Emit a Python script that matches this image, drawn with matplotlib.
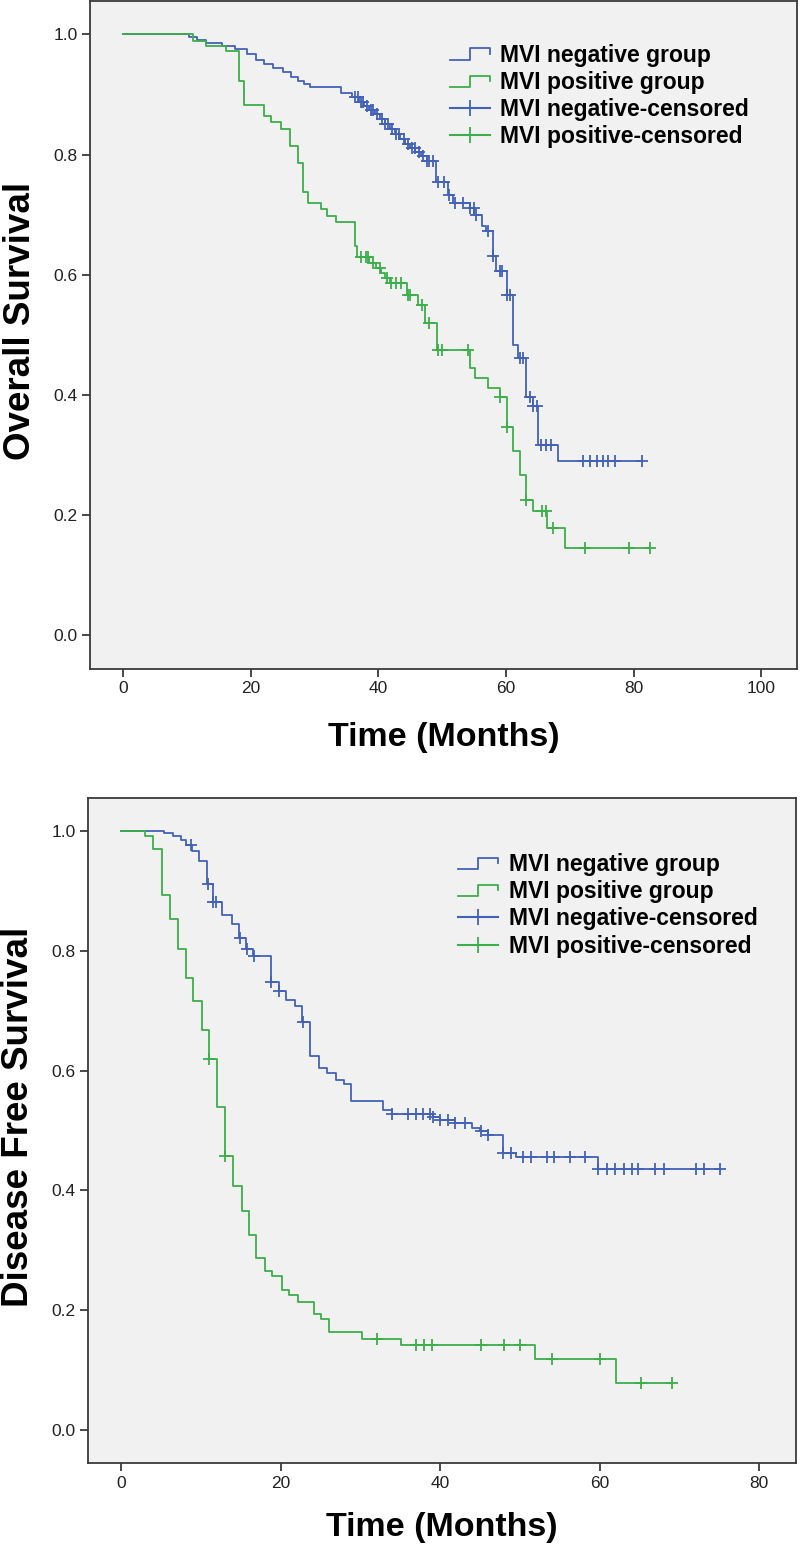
import numpy as np
import matplotlib
matplotlib.use('Agg')
from matplotlib import pyplot as plt
from matplotlib.lines import Line2D
from matplotlib.legend_handler import HandlerBase

plt.rcParams['font.family'] = ['Liberation Sans', 'DejaVu Sans']

# ---------------------------- Data ----------------------------

# Overall survival, MVI negative: event times (months) and survival after each event
os_neg_times = [0, 10.3, 11.5, 13.0, 15.5, 17.5, 19.4, 20.8, 22.0, 23.5, 25.0, 26.3, 27.4,
                28.3, 29.2, 34.2, 35.8, 37.0, 37.8, 38.6, 39.4, 40.2, 41.0, 41.8, 42.6,
                43.4, 44.2, 45.0, 45.8, 46.6, 47.6, 49.0, 50.9, 51.7, 54.3, 55.0, 56.2,
                56.9, 58.0, 58.5, 60.1, 61.1, 61.9, 63.2, 64.2, 65.0, 68.2]
os_neg_surv = [1.0, 0.995, 0.99, 0.985, 0.98, 0.975, 0.967, 0.958, 0.95, 0.944, 0.937, 0.929,
               0.922, 0.917, 0.913, 0.903, 0.895, 0.888, 0.881, 0.874, 0.867, 0.86, 0.851,
               0.843, 0.834, 0.826, 0.818, 0.811, 0.804, 0.797, 0.79, 0.755, 0.733, 0.719,
               0.711, 0.70, 0.681, 0.672, 0.631, 0.606, 0.567, 0.483, 0.461, 0.397, 0.381,
               0.317, 0.289]
os_neg_end = 81.3
os_neg_cens = [36.3, 36.8, 37.3, 37.6, 38.2, 38.8, 39.2, 39.8, 40.5, 41.0, 41.5, 42.2, 42.8,
               43.3, 44.0, 44.6, 45.2, 45.7, 46.4, 47.0, 47.6, 48.0, 48.6, 49.4, 50.2, 51.0,
               52.0, 53.2, 54.3, 54.9, 55.3, 57.1, 58.0, 59.0, 59.3, 60.2, 60.6, 62.2, 62.7,
               63.7, 64.2, 64.8, 65.5, 66.3, 67.1, 72.1, 73.2, 74.2, 75.2, 76.0, 77.1, 81.3]

# Overall survival, MVI positive
os_pos_times = [0, 10.9, 13.0, 16.1, 18.2, 19.0, 22.0, 23.2, 24.8, 26.1, 27.4, 28.2, 29.0,
                31.0, 32.0, 33.4, 36.3, 36.6, 38.6, 39.6, 40.4, 41.0, 41.8, 44.4, 46.2,
                47.3, 49.1, 54.3, 55.1, 57.2, 59.0, 60.1, 61.1, 62.2, 63.2, 64.3, 66.4, 69.2]
os_pos_surv = [1.0, 0.989, 0.981, 0.972, 0.922, 0.882, 0.864, 0.854, 0.842, 0.814, 0.786,
               0.737, 0.719, 0.71, 0.698, 0.688, 0.647, 0.63, 0.619, 0.611, 0.603, 0.594,
               0.586, 0.567, 0.55, 0.519, 0.475, 0.444, 0.428, 0.411, 0.397, 0.347, 0.306,
               0.267, 0.225, 0.206, 0.178, 0.145]
os_pos_end = 82.5
os_pos_cens = [37.3, 38.0, 38.4, 39.2, 40.2, 41.4, 42.0, 42.7, 43.5, 44.6, 45.0, 46.9, 48.0,
               49.4, 49.9, 54.0, 59.0, 60.1, 63.2, 65.6, 66.2, 67.3, 72.3, 79.3, 82.5]

# Disease free survival, MVI negative
dfs_neg_times = [0, 5.3, 6.5, 7.5, 8.1, 8.8, 9.7, 10.7, 11.5, 12.6, 13.8, 14.8, 15.6, 16.5,
                 18.7, 19.7, 20.6, 21.7, 22.7, 23.7, 24.8, 25.8, 26.9, 27.9, 28.8, 32.8,
                 33.9, 39.1, 39.9, 41.8, 44.0, 45.0, 46.0, 47.9, 49.5, 59.8]
dfs_neg_surv = [1.0, 0.997, 0.992, 0.986, 0.978, 0.967, 0.95, 0.913, 0.882, 0.86, 0.845,
                0.822, 0.804, 0.792, 0.748, 0.733, 0.719, 0.708, 0.681, 0.624, 0.605, 0.596,
                0.585, 0.577, 0.549, 0.535, 0.528, 0.522, 0.518, 0.513, 0.505, 0.50, 0.493,
                0.463, 0.455, 0.435]
dfs_neg_end = 75.1
dfs_neg_cens = [8.7, 10.8, 11.5, 11.8, 14.9, 15.8, 16.6, 18.8, 19.8, 22.8, 33.9, 35.9, 37.0,
                37.8, 38.7, 39.1, 39.9, 40.9, 41.8, 43.1, 45.1, 46.0, 47.9, 48.9, 50.3, 51.3,
                53.4, 54.2, 56.2, 58.1, 59.8, 60.9, 61.9, 63.0, 64.0, 64.8, 66.9, 68.0, 72.0,
                73.0, 75.1]

# Disease free survival, MVI positive
dfs_pos_times = [0, 3.0, 4.0, 5.1, 6.1, 7.1, 8.1, 9.0, 10.1, 11.0, 12.0, 13.0, 14.0, 15.1,
                 16.0, 16.9, 18.0, 18.9, 20.1, 21.0, 22.1, 24.1, 25.0, 26.0, 30.2, 35.1,
                 51.9, 62.0]
dfs_pos_surv = [1.0, 0.992, 0.971, 0.893, 0.854, 0.804, 0.755, 0.716, 0.668, 0.619, 0.539,
                0.458, 0.407, 0.366, 0.326, 0.286, 0.265, 0.256, 0.234, 0.225, 0.214, 0.193,
                0.184, 0.163, 0.152, 0.141, 0.118, 0.078]
dfs_pos_end = 69.0
dfs_pos_cens = [11.0, 13.0, 32.1, 37.0, 38.0, 39.0, 45.1, 48.0, 50.0, 54.0, 60.0, 65.2, 69.0]

legend_labels = ['MVI negative group', 'MVI positive group',
                 'MVI negative-censored', 'MVI positive-censored']

BLUE = '#4262b8'
GREEN = '#3cae4a'


# ---------------------- Utility Methods  -----------------------

def surv_at(times, surv, t):
    idx = np.searchsorted(times, t, side='right') - 1
    return np.asarray(surv)[idx]


def km_curve(ax, times, surv, end, cens, color):
    x = list(times) + [end]
    y = list(surv) + [surv[-1]]
    ax.step(x, y, where='post', color=color, lw=1.3)
    ax.plot(cens, surv_at(times, surv, cens), ls='none', marker='+',
            ms=8, mew=1.3, color=color)


# Draws the little step icon SPSS uses for the group entries
class StepHandler(HandlerBase):
    def create_artists(self, legend, orig_handle, xdescent, ydescent,
                       width, height, fontsize, trans):
        lo = -ydescent + 0.15 * height
        hi = -ydescent + 0.85 * height
        xs = [-xdescent, -xdescent + 0.5 * width, -xdescent + 0.5 * width,
              -xdescent + width, -xdescent + width]
        ys = [lo, lo, hi, hi, 0.5 * (lo + hi)]
        line = Line2D(xs, ys, color=orig_handle.get_color(), lw=1.3, transform=trans)
        return [line]


def style_axes(ax, xticks, xlim, ylabel, leg_xy, xlab_y):
    ax.set_facecolor('#f1f1f1')
    for sp in ax.spines.values():
        sp.set_color('#3a3a3a')
        sp.set_linewidth(1.3)
    ax.set_xlim(*xlim)
    ax.set_ylim(-0.056, 1.056)
    ax.set_xticks(xticks)
    ax.set_yticks([0.0, 0.2, 0.4, 0.6, 0.8, 1.0])
    ax.set_yticklabels(['0.0', '0.2', '0.4', '0.6', '0.8', '1.0'])
    ax.tick_params(direction='out', length=6, width=1.3, color='#3a3a3a',
                   labelsize=12.5, labelcolor='#222222', pad=3)
    ax.set_ylabel(ylabel, fontsize=26.5, fontweight='bold')
    ax.yaxis.set_label_coords(-0.074, 0.52)
    ax.set_xlabel('Time (Months)', fontsize=24.5, fontweight='bold')
    ax.xaxis.set_label_coords(0.5, xlab_y)

    handles = [Line2D([], [], color=BLUE), Line2D([], [], color=GREEN),
               Line2D([], [], color=BLUE, marker='+', ms=12, mew=1.3),
               Line2D([], [], color=GREEN, marker='+', ms=12, mew=1.3)]
    hm = {handles[0]: StepHandler(), handles[1]: StepHandler()}
    ax.legend(handles, legend_labels, handler_map=hm, loc='upper left',
              bbox_to_anchor=leg_xy, frameon=False,
              prop={'weight': 'bold', 'size': 16.5}, handlelength=1.75,
              handletextpad=0.44, labelspacing=0.18)


# ------------------------ Plot ------------------------------

fig = plt.figure(figsize=(8, 15.48), dpi=100)
ax1 = fig.add_axes([0.1125, 0.568, 0.8838, 0.4315])
ax2 = fig.add_axes([0.110, 0.0549, 0.8850, 0.4296])

km_curve(ax1, os_neg_times, os_neg_surv, os_neg_end, os_neg_cens, BLUE)
km_curve(ax1, os_pos_times, os_pos_surv, os_pos_end, os_pos_cens, GREEN)
style_axes(ax1, [0, 20, 40, 60, 80, 100], (-5.2, 105.6), 'Overall Survival',
           (0.480, 0.966), -0.079)

km_curve(ax2, dfs_neg_times, dfs_neg_surv, dfs_neg_end, dfs_neg_cens, BLUE)
km_curve(ax2, dfs_pos_times, dfs_pos_surv, dfs_pos_end, dfs_pos_cens, GREEN)
style_axes(ax2, [0, 20, 40, 60, 80], (-4.2, 84.6), 'Disease Free Survival',
           (0.494, 0.948), -0.074)

fig.savefig('out.png', dpi=100)
